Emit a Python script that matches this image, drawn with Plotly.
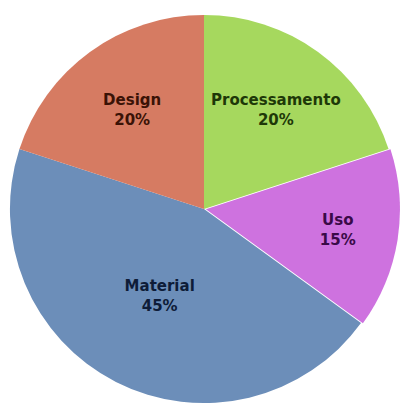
import plotly.graph_objects as go

# Share of each stage (percent)
labels = ["Processamento", "Uso", "Material", "Design"]
values = [20, 15, 45, 20]

slice_colors = ["#A6D85E", "#CE72DF", "#6C8EB9", "#D67B62"]
text_colors = ["#1E3808", "#3A0A48", "#0E1C38", "#3A1206"]
pulls = [0, 0.01, 0, 0]

fig = go.Figure(
    go.Pie(
        labels=labels,
        values=values,
        sort=False,
        direction="clockwise",
        rotation=0,
        pull=pulls,
        marker=dict(colors=slice_colors, line=dict(width=0)),
        texttemplate="<b>%{label}</b><br><b>%{percent:.0%}</b>",
        textposition="inside",
        insidetextorientation="horizontal",
        textfont=dict(family="DejaVu Sans", size=15, color=text_colors),
        hoverinfo="label+percent",
        domain=dict(x=[0.02, 1.0], y=[0.0, 0.9679]),
        showlegend=False,
    )
)

fig.update_layout(
    width=400,
    height=405,
    margin=dict(l=0, r=0, t=0, b=0),
    paper_bgcolor="white",
    plot_bgcolor="white",
)

fig.write_html("out.html")
